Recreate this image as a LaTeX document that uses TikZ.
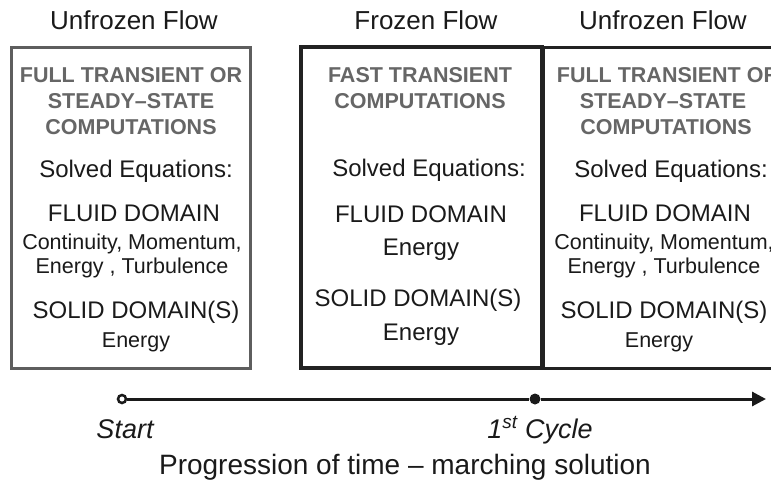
\documentclass[tikz,border=0pt]{standalone}
\usepackage{fontspec}
\setmainfont{Liberation Sans}
\usetikzlibrary{arrows.meta}
\definecolor{ink}{HTML}{1A1A1A}
\definecolor{titlegray}{HTML}{666666}
\definecolor{boxgray}{HTML}{5E5E5E}
\definecolor{boxdark}{HTML}{222222}
\tikzset{
  hdr/.style={anchor=base,font=\fontsize{26}{30}\selectfont,text=ink,inner sep=0pt},
  ttl/.style={anchor=base,font=\fontsize{21.5}{26}\selectfont\bfseries,text=titlegray,inner sep=0pt},
  big/.style={anchor=base,font=\fontsize{24}{28}\selectfont,text=ink,inner sep=0pt},
  sml/.style={anchor=base,font=\fontsize{21.5}{25}\selectfont,text=ink,inner sep=0pt},
  tml/.style={anchor=base,font=\fontsize{27}{30}\selectfont\itshape,text=ink,inner sep=0pt},
  panelbox/.style={inner sep=0pt,minimum height=321pt},
}
\begin{document}
\begin{tikzpicture}[x=1pt,y=-1pt]
\useasboundingbox (0,0) rectangle (771,480);
\clip (0,0) rectangle (771,480);
\fill[white] (0,0) rectangle (771,480);

% headers
\node[hdr] (h1) at (134,29) {Unfrozen Flow};
\node[hdr] (h2) at (426,29) {Frozen Flow};
\node[hdr] (h3) at (663,29) {Unfrozen Flow};

% boxes
\node[panelbox,draw=boxdark,line width=3pt,minimum width=247pt] (rbox) at (666.5,207.5) {};
\node[panelbox,draw=boxgray,line width=3pt,minimum width=239pt] (lbox) at (130.5,207.5) {};
\node[panelbox,draw=boxdark,line width=3.5pt,minimum width=241pt] (mbox) at (421.5,207.5) {};

% left box text
\node[ttl] (l1) at (131,82.5) {FULL TRANSIENT OR};
\node[ttl] (l2) at (131,108.5) {STEADY–STATE};
\node[ttl] (l3) at (131,134.5) {COMPUTATIONS};
\node[big] (l4) at (136,177) {Solved Equations:};
\node[big] (l5) at (134,221.5) {FLUID DOMAIN};
\node[sml] (l6) at (132,249.5) {Continuity, Momentum,};
\node[sml] (l7) at (132,273.5) {Energy , Turbulence};
\node[big] (l8) at (136,318) {SOLID DOMAIN(S)};
\node[sml] (l9) at (136,347) {Energy};

% middle box text
\node[ttl] (m1) at (420,82.5) {FAST TRANSIENT};
\node[ttl] (m2) at (420,108.5) {COMPUTATIONS};
\node[big] (m3) at (429,176) {Solved Equations:};
\node[big] (m4) at (421,222) {FLUID DOMAIN};
\node[big] (m5) at (421,255) {Energy};
\node[big] (m6) at (418,306.5) {SOLID DOMAIN(S)};
\node[big] (m7) at (421,340) {Energy};

% right box text (cut off by the right edge, as in the reference)
\node[ttl] (r1) at (668,82.5) {FULL TRANSIENT OR};
\node[ttl] (r2) at (663,108.5) {STEADY–STATE};
\node[ttl] (r3) at (666,134.5) {COMPUTATIONS};
\node[big] (r4) at (671,177) {Solved Equations:};
\node[big] (r5) at (665,221.5) {FLUID DOMAIN};
\node[sml] (r6) at (664,249.5) {Continuity, Momentum,};
\node[sml] (r7) at (664,273.5) {Energy , Turbulence};
\node[big] (r8) at (664,318) {SOLID DOMAIN(S)};
\node[sml] (r9) at (659,347) {Energy};

% timeline
\node[circle,draw=ink,fill=white,line width=2.5pt,minimum size=8pt,inner sep=0pt] (t0) at (122,399) {};
\node[circle,fill=ink,minimum size=11pt,inner sep=0pt] (t1) at (535,399) {};
\coordinate (tend) at (766,399);
\draw[ink,line width=3pt] (t0) -- (t1);
\draw[ink,line width=3pt,-{Triangle[length=14pt,width=14pt]}] (t1) -- (tend);

\node[tml] (s0) at (125,438) {Start};
\node[tml] (s1) at (540,438) {1\textsuperscript{st} Cycle};
\node[anchor=base,font=\fontsize{28}{32}\selectfont,text=ink,inner sep=0pt] (prog) at (405,474) {Progression of time – marching solution};
\end{tikzpicture}
\end{document}
